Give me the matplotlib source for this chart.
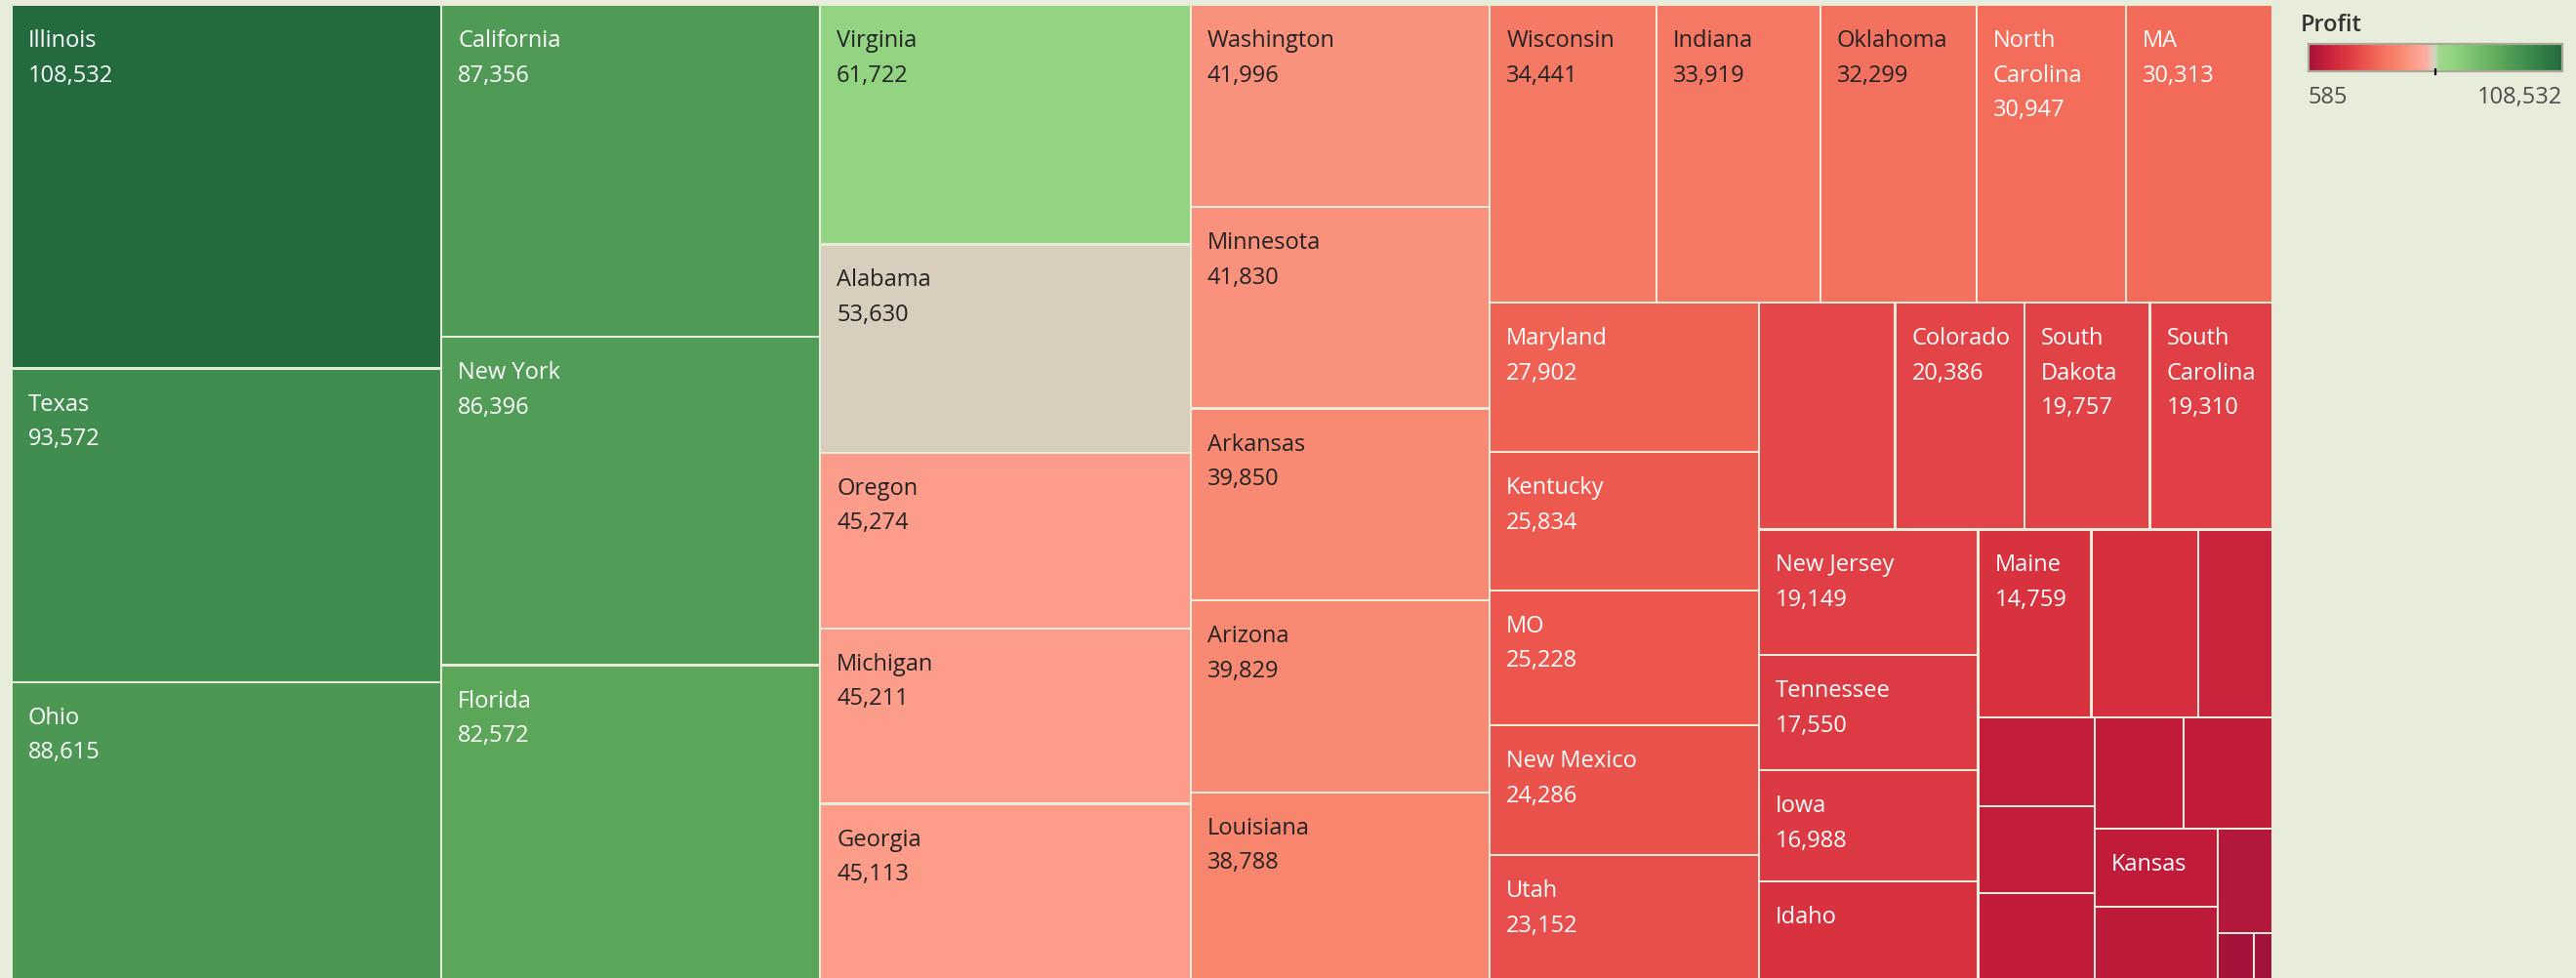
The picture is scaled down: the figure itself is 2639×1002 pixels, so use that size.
import matplotlib
matplotlib.use("Agg")
import matplotlib.pyplot as plt
from matplotlib.patches import Rectangle
from matplotlib.colors import LinearSegmentedColormap, Normalize
import numpy as np

# ---------------- data (sorted by profit, descending) ----------------
states = [
    "Illinois", "Texas", "Ohio", "California", "New York", "Florida",
    "Virginia", "Alabama", "Oregon", "Michigan", "Georgia",
    "Washington", "Minnesota", "Arkansas", "Arizona", "Louisiana",
    "Wisconsin", "Indiana", "Oklahoma", "North\nCarolina", "MA",
    "Maryland", "Kentucky", "MO", "New Mexico", "Utah",
    "Pennsylvania", "Colorado", "South\nDakota", "South\nCarolina",
    "New Jersey", "Tennessee", "Iowa", "Idaho",
    "Maine", "Connecticut", "Mississippi",
    "Nebraska", "Nevada", "Delaware", "Montana", "Vermont",
    "Kansas", "New Hampshire", "Rhode Island", "West Virginia", "Wyoming",
]
profit = [
    108532, 93572, 88615, 87356, 86396, 82572,
    61722, 53630, 45274, 45211, 45113,
    41996, 41830, 39850, 39829, 38788,
    34441, 33919, 32299, 30947, 30313,
    27902, 25834, 25228, 24286, 23152,
    21500, 20386, 19757, 19310,
    19149, 17550, 16988, 14850,
    14759, 13990, 9660,
    7200, 7030, 6920, 6900, 6840,
    6700, 6150, 4000, 1150, 585,
]
# 2 = name + value shown, 1 = name only, 0 = no label (does not fit)
label_lines = [
    2, 2, 2, 2, 2, 2,
    2, 2, 2, 2, 2,
    2, 2, 2, 2, 2,
    2, 2, 2, 2, 2,
    2, 2, 2, 2, 2,
    0, 2, 2, 2,
    2, 2, 2, 1,
    2, 0, 0,
    0, 0, 0, 0, 0,
    1, 0, 0, 0, 0,
]
legend_title = "Profit"

# ---------------- layout / style ----------------
W_PX, H_PX, DPI = 2639, 1002, 100
TM_LEFT, TM_RIGHT, TM_TOP, TM_BOTTOM = 12, 2328, 5, 1003
STRIP_COUNTS = [3, 3, 5, 5, 5, 5, 4, 4, 3, 3, 2, 2, 1, 1, 1]
BG = "#e8ecda"
FONT = ["Open Sans", "DejaVu Sans"]
FS = 17
DARK_TEXT_RANGE = (31500, 72000)

CMAP_STOPS = [
    (0.000, "#a3123a"), (0.060, "#c21d3a"), (0.131, "#d8323f"),
    (0.172, "#e04045"), (0.226, "#ec554d"), (0.275, "#f26a58"),
    (0.314, "#f57a66"), (0.354, "#f8866f"), (0.384, "#f9927d"),
    (0.414, "#fc9c8a"), (0.462, "#ffada1"), (0.491, "#d9cebd"),
    (0.500, "#cfd3c3"), (0.515, "#9fd98d"), (0.566, "#93d482"),
    (0.759, "#5ca659"), (0.804, "#4f9a55"), (0.862, "#418d4f"),
    (1.000, "#236a3e"),
]
cmap = LinearSegmentedColormap.from_list("profit", CMAP_STOPS, N=1024)
vmin, vmax = min(profit), max(profit)
norm = Normalize(vmin, vmax)

plt.rcParams["font.family"] = FONT


def strip_layout(vals, counts, x, y, w, h):
    scale = w * h / float(sum(vals))
    rects, i = [], 0
    for c in counts:
        grp = vals[i:i + c]
        area = sum(grp) * scale
        if w >= h:  # strip along the (shorter) height -> column on the left
            cw = area / h
            yy = y
            for v in grp:
                bh = v * scale / cw
                rects.append((x, yy, cw, bh))
                yy += bh
            x += cw
            w -= cw
        else:  # strip along the width -> row on top
            rh = area / w
            xx = x
            for v in grp:
                bw = v * scale / rh
                rects.append((xx, y, bw, rh))
                xx += bw
            y += rh
            h -= rh
        i += c
    return rects


fig = plt.figure(figsize=(W_PX / DPI, H_PX / DPI), dpi=DPI, facecolor=BG)

tw, th = TM_RIGHT - TM_LEFT, TM_BOTTOM - TM_TOP
ax = fig.add_axes([TM_LEFT / W_PX, 1 - TM_BOTTOM / H_PX, tw / W_PX, th / H_PX])
ax.set_xlim(0, tw)
ax.set_ylim(th, 0)
ax.set_facecolor("white")
ax.axis("off")
ax.patch.set_visible(True)

rects = strip_layout(profit, STRIP_COUNTS, 0, 0, tw, th)
GAP = 1.1
for (rx, ry, rw, rh), name, val, nl in zip(rects, states, profit, label_lines):
    col = cmap(norm(val))
    ax.add_patch(Rectangle((rx + GAP, ry + GAP), rw - 2 * GAP, rh - 2 * GAP,
                           facecolor=col, edgecolor="none", linewidth=0))
    if nl == 0:
        continue
    lines = name.split("\n")
    if nl == 2:
        lines = lines + [f"{val:,}"]
    tcol = "#222222" if DARK_TEXT_RANGE[0] < val < DARK_TEXT_RANGE[1] else "white"
    for k, s in enumerate(lines):
        ax.text(rx + 17, ry + 43 + 35.7 * k, s, fontsize=FS, color=tcol,
                ha="left", va="baseline")

# ---------------- legend ----------------
fig.text(2357 / W_PX, 1 - 32 / H_PX, legend_title, fontsize=FS, color="#333333",
         fontweight="semibold", ha="left", va="baseline")

bx0, bx1, by0, by1 = 2365, 2625, 45, 73
cax = fig.add_axes([bx0 / W_PX, 1 - by1 / H_PX, (bx1 - bx0) / W_PX, (by1 - by0) / H_PX])
grad = np.linspace(vmin, vmax, 512)[None, :]
cax.imshow(grad, aspect="auto", cmap=cmap, norm=norm, extent=[vmin, vmax, 0, 1])
cax.set_xlim(vmin, vmax)
cax.set_ylim(0, 1)
cax.set_xticks([])
cax.set_yticks([])
for sp in cax.spines.values():
    sp.set_edgecolor("#aaa898")
    sp.set_linewidth(1.6)
mid = (vmin + vmax) / 2
cax.plot([mid, mid], [0.11, -0.16], color="black", lw=1.6, clip_on=False,
         solid_capstyle="butt", zorder=5)

fig.text(bx0 / W_PX, 1 - 106 / H_PX, f"{vmin:,}", fontsize=FS, color="#4d4d4d",
         ha="left", va="baseline")
fig.text(bx1 / W_PX, 1 - 106 / H_PX, f"{vmax:,}", fontsize=FS, color="#4d4d4d",
         ha="right", va="baseline")

fig.savefig("out.png", dpi=DPI, facecolor=BG)
